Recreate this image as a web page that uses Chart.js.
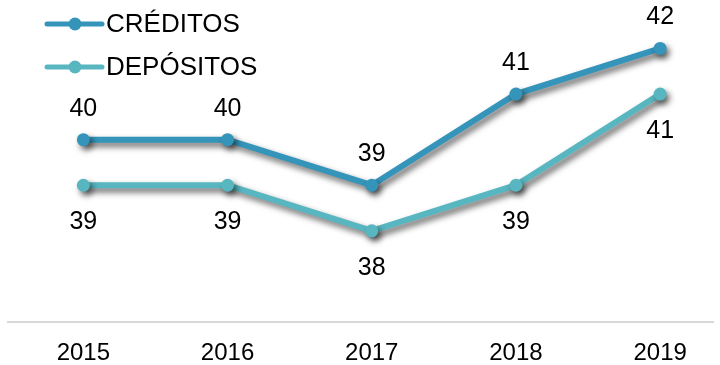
<!DOCTYPE html>
<html>
<head>
  <meta charset="utf-8">
  <title>Créditos y depósitos 2015-2019</title>
  <script src="https://cdn.jsdelivr.net/npm/chart.js"></script>
  <style>
    html, body { margin: 0; padding: 0; background: #fff; }
    .chart-box { width: 720px; height: 365px; position: relative; }
  </style>
</head>
<body>

<div class="chart-box">
  <canvas id="chart"></canvas>
</div>

<script>
const years     = ['2015', '2016', '2017', '2018', '2019'];
const creditos  = [40, 40, 39, 41, 42];
const depositos = [39, 39, 38, 39, 41];

const FONT = "'Liberation Sans', Arial, sans-serif";

// soft drop shadow under each series
const shadowPlugin = {
  id: 'lineShadow',
  beforeDatasetDraw(chart) {
    const ctx = chart.ctx;
    ctx.save();
    ctx.shadowColor = 'rgba(0, 0, 0, 0.6)';
    ctx.shadowBlur = 6;
    ctx.shadowOffsetX = 3;
    ctx.shadowOffsetY = 4;
  },
  afterDatasetDraw(chart) {
    chart.ctx.restore();
  }
};

// value labels, above or below each point
const valueLabels = {
  id: 'valueLabels',
  afterDatasetsDraw(chart) {
    const ctx = chart.ctx;
    ctx.save();
    ctx.font = '25px ' + FONT;
    ctx.fillStyle = '#000';
    ctx.textAlign = 'center';
    ctx.textBaseline = 'middle';
    chart.data.datasets.forEach((ds, i) => {
      chart.getDatasetMeta(i).data.forEach((pt, j) => {
        ctx.fillText(String(ds.data[j].y), pt.x, pt.y + ds.labelOffset);
      });
    });
    ctx.restore();
  }
};

// legend in the top-left corner: line with a dot, then the name
const cornerLegend = {
  id: 'cornerLegend',
  afterDraw(chart) {
    const ctx = chart.ctx;
    ctx.save();
    chart.data.datasets.forEach((ds, i) => {
      const y = 24 + i * 43;
      ctx.strokeStyle = ds.borderColor;
      ctx.fillStyle = ds.borderColor;
      ctx.lineWidth = 5;
      ctx.lineCap = 'round';
      ctx.beginPath();
      ctx.moveTo(47, y);
      ctx.lineTo(102, y);
      ctx.stroke();
      ctx.beginPath();
      ctx.arc(75, y, 6.5, 0, Math.PI * 2);
      ctx.fill();
      ctx.fillStyle = '#000';
      ctx.font = '26px ' + FONT;
      ctx.textBaseline = 'middle';
      ctx.fillText(ds.label, 106, y + 1);
    });
    ctx.restore();
  }
};

const toPoints = (vals) => vals.map((v, i) => ({ x: i, y: v }));

new Chart(document.getElementById('chart'), {
  type: 'line',
  data: {
    datasets: [
      {
        label: 'CRÉDITOS',
        data: toPoints(creditos),
        borderColor: '#3494BA',
        backgroundColor: '#3494BA',
        borderWidth: 6,
        pointRadius: 6.5,
        pointBorderWidth: 0,
        labelOffset: -31,
      },
      {
        label: 'DEPÓSITOS',
        data: toPoints(depositos),
        borderColor: '#58B6C0',
        backgroundColor: '#58B6C0',
        borderWidth: 6,
        pointRadius: 6.5,
        pointBorderWidth: 0,
        labelOffset: 37,
      }
    ]
  },
  options: {
    responsive: true,
    maintainAspectRatio: false,
    animation: false,
    events: [],
    layout: { padding: { left: 8, right: 0, top: 0, bottom: 0 } },
    plugins: {
      legend: { display: false },
      tooltip: { enabled: false }
    },
    scales: {
      x: {
        type: 'linear',
        min: -0.5225,
        max: 4.37,
        afterBuildTicks: (axis) => { axis.ticks = years.map((_, i) => ({ value: i })); },
        afterFit: (axis) => { axis.height = 43; },
        ticks: {
          autoSkip: false,
          maxRotation: 0,
          padding: 17,
          color: '#000',
          font: { family: FONT, size: 24 },
          callback: (v) => years[v]
        },
        grid: { display: false, drawTicks: false, tickLength: 0 },
        border: { display: true, color: '#d9d9d9', width: 2 }
      },
      y: {
        display: false,
        min: 36,
        max: 42.92
      }
    }
  },
  plugins: [shadowPlugin, valueLabels, cornerLegend]
});
</script>

</body>
</html>
